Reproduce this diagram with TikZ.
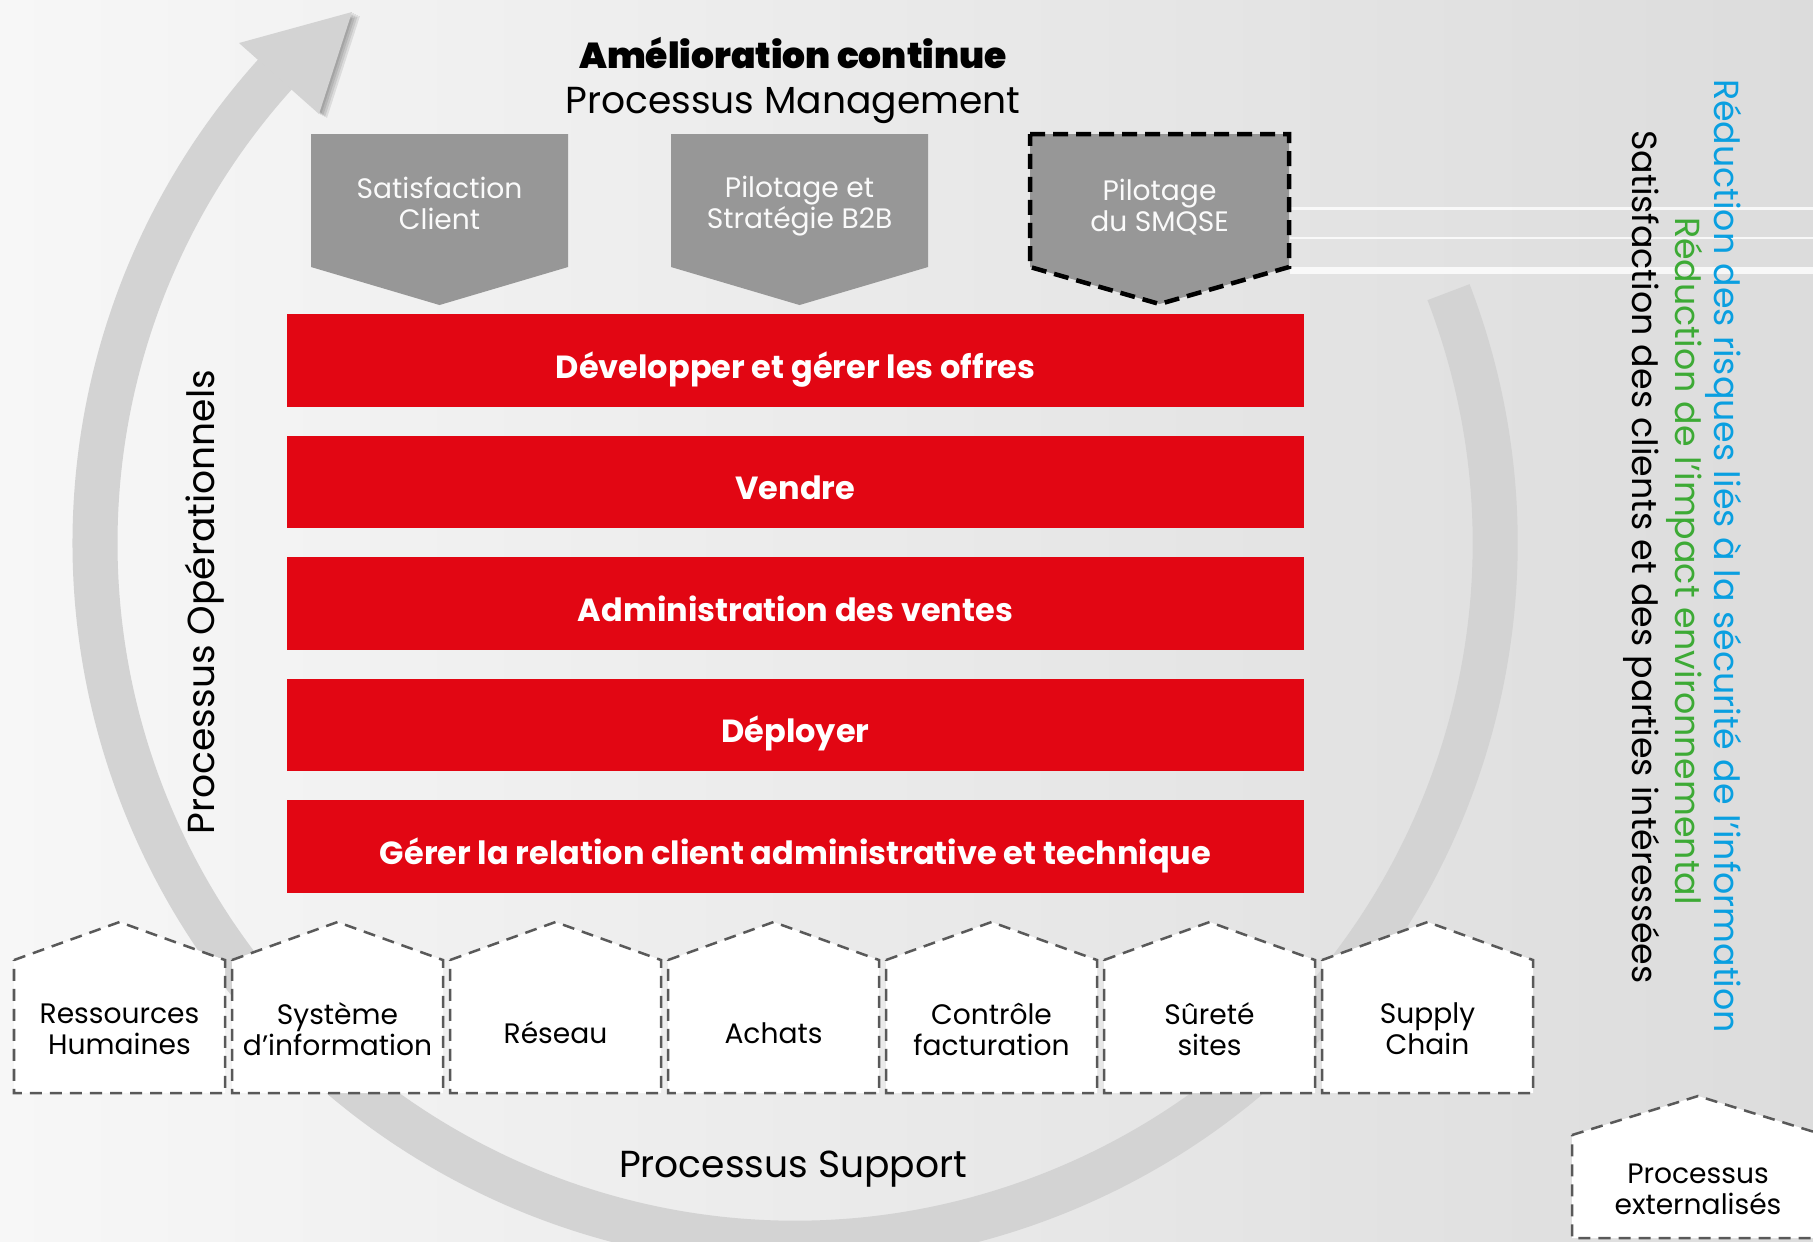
\documentclass[tikz,border=0pt]{standalone}
\usepackage{fontspec}
\setmainfont{Poppins}
\newfontfamily\poppinsnegra{Poppins Black}

\definecolor{rojo}{HTML}{E20613}
\definecolor{grisbox}{HTML}{979797}
\definecolor{grisarco}{HTML}{D3D3D3}
\definecolor{grisborde}{HTML}{595959}
\definecolor{azul}{HTML}{0A9FE0}
\definecolor{verde}{HTML}{3DAA35}
\definecolor{fondoA}{HTML}{F7F7F7}
\definecolor{fondoB}{HTML}{DCDCDC}

\begin{document}
\begin{tikzpicture}[x=0.01cm,y=-0.01cm,
    barra/.style={fill=rojo,text=white,minimum width=10.17cm,minimum height=0.925cm,inner sep=0pt,
        font=\fontsize{9.1}{11}\selectfont\bfseries,text depth=0pt,text height=1.01em},
    gestion/.style={fill=grisbox},
    gestiontxt/.style={text=white!96!gray,align=center,font=\fontsize{8}{8.8}\selectfont},
    soporte/.style={fill=white,draw=grisborde,line width=0.025cm,dash pattern=on 0.12cm off 0.08cm},
    soportetxt/.style={align=center,font=\fontsize{8}{8.8}\selectfont},
    lateral/.style={font=\fontsize{9.9}{12}\selectfont},
    sombra/.style={black,opacity=0.09}]

    % Fondo
    \useasboundingbox (0,0) rectangle (1813,1241);
    \shade[left color=fondoA,right color=fondoB] (0,0) rectangle (1813,1241);
    \draw[white,opacity=0.8,line width=0.03cm] (1290,208) -- (1813,208);
    \draw[white,opacity=0.8,line width=0.02cm] (1290,238) -- (1813,238);
    \draw[white,opacity=0.8,line width=0.07cm] (1290,270) -- (1813,270);

    % Flecha circular
    \coordinate (centro) at (795,543);
    \draw[grisarco,line width=0.45cm] ([shift={(-21:700)}]centro) arc[start angle=-21,end angle=223,radius=700];
    \coordinate (pA) at (239,43);
    \coordinate (pB) at (352,12);
    \coordinate (pC) at (319,114);
    \fill[sombra] ([shift={(2,1)}]pA) -- ([shift={(2,1)}]pB) -- ([shift={(2,1)}]pC) -- cycle;
    \fill[sombra] ([shift={(4,2)}]pA) -- ([shift={(4,2)}]pB) -- ([shift={(4,2)}]pC) -- cycle;
    \fill[sombra] ([shift={(6,3)}]pA) -- ([shift={(6,3)}]pB) -- ([shift={(6,3)}]pC) -- cycle;
    \fill[sombra] ([shift={(8,4)}]pA) -- ([shift={(8,4)}]pB) -- ([shift={(8,4)}]pC) -- cycle;
    \fill[grisarco] (pA) -- (pB) -- (pC) -- cycle;

    % Titulo
    \node[font=\fontsize{10.25}{12}\selectfont\poppinsnegra] (mejora) at (793,53) {Amélioration continue};
    \node[font=\fontsize{10.7}{13}\selectfont] (management) at (793,105) {Processus Management};

    % Procesos de gestion
    \fill[gestion] (311,134) -- (568,134) -- (568,267) -- (439.5,305) -- (311,267) -- cycle;
    \fill[gestion] (671,134) -- (928,134) -- (928,267) -- (799.5,305) -- (671,267) -- cycle;
    \draw[gestion,draw=black,line width=0.045cm,dash pattern=on 0.15cm off 0.08cm]
        (1030,134) -- (1289,134) -- (1289,267) -- (1159.5,304) -- (1030,267) -- cycle;
    \node[gestiontxt] (satis) at (439.5,203) {Satisfaction\\Client};
    \node[gestiontxt] (pilotage) at (799.5,206) {Pilotage et\\Stratégie B2B};
    \node[gestiontxt] (smqse) at (1159.5,207) {Pilotage\\du SMQSE};

    % Procesos operacionales
    \node[barra] (offres) at (795.5,360.5) {Développer et gérer les offres};
    \node[barra] (vendre) at (795.5,482) {Vendre};
    \node[barra] (admin) at (795.5,603.5) {Administration des ventes};
    \node[barra] (deployer) at (795.5,725) {Déployer};
    \node[barra] (relation) at (795.5,846.5) {Gérer la relation client administrative et technique};
    \node[lateral,font=\fontsize{10.7}{13}\selectfont,rotate=90] (operationnels) at (205,602) {Processus Opérationnels};

    % Procesos de soporte
    \draw[soporte] (14,960) -- (119.5,922) -- (225,960) -- (225,1093) -- (14,1093) -- cycle;
    \draw[soporte] (232,960) -- (337.5,922) -- (443,960) -- (443,1093) -- (232,1093) -- cycle;
    \draw[soporte] (450,960) -- (555.5,922) -- (661,960) -- (661,1093) -- (450,1093) -- cycle;
    \draw[soporte] (668,960) -- (773.5,922) -- (879,960) -- (879,1093) -- (668,1093) -- cycle;
    \draw[soporte] (886,960) -- (991.5,922) -- (1097,960) -- (1097,1093) -- (886,1093) -- cycle;
    \draw[soporte] (1104,960) -- (1209.5,922) -- (1315,960) -- (1315,1093) -- (1104,1093) -- cycle;
    \draw[soporte] (1322,960) -- (1427.5,922) -- (1533,960) -- (1533,1093) -- (1322,1093) -- cycle;
    \node[soportetxt] (rh) at (119.5,1029) {Ressources\\Humaines};
    \node[soportetxt] (si) at (337.5,1029) {Système\\d’information};
    \node[soportetxt] (reseau) at (555.5,1033) {Réseau};
    \node[soportetxt] (achats) at (773.5,1033) {Achats};
    \node[soportetxt] (controle) at (991.5,1029) {Contrôle\\facturation};
    \node[soportetxt] (surete) at (1209.5,1029) {Sûreté\\sites};
    \node[soportetxt] (supply) at (1427.5,1029) {Supply\\Chain};
    \node[font=\fontsize{10.7}{13}\selectfont] (support) at (793,1169) {Processus Support};

    % Procesos externalizados
    \draw[soporte] (1572,1135) -- (1698,1096) -- (1824,1135) -- (1824,1238) -- (1572,1238) -- cycle;
    \node[soportetxt] (externes) at (1698,1189) {Processus\\externalisés};

    % Objetivos
    \node[lateral,rotate=-90] (clients) at (1642,557) {Satisfaction des clients et des parties intéressées};
    \node[lateral,rotate=-90,text=verde] (environ) at (1685,561) {Réduction de l’impact environnemental};
    \node[lateral,rotate=-90,text=azul] (securite) at (1724,556) {Réduction des risques liés à la sécurité de l’information};

\end{tikzpicture}
\end{document}
